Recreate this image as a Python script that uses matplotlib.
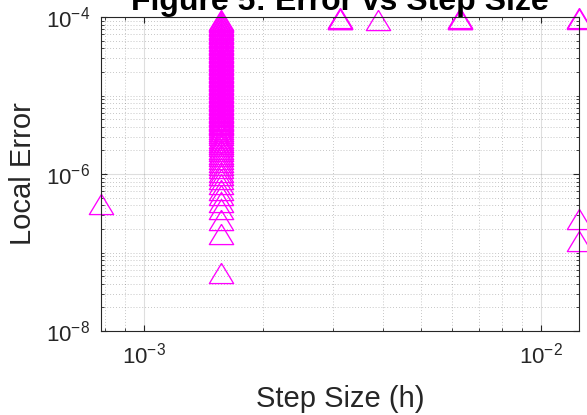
import numpy as np
import matplotlib
matplotlib.use("Agg")
import matplotlib.pyplot as plt
from matplotlib.ticker import LogLocator, FixedLocator, NullFormatter, LogFormatterMathtext

plt.rcParams['font.family'] = ['Liberation Sans', 'DejaVu Sans']
plt.rcParams['mathtext.fontset'] = 'custom'
plt.rcParams['mathtext.rm'] = 'Liberation Sans'
plt.rcParams['mathtext.it'] = 'Liberation Sans:italic'
plt.rcParams['mathtext.bf'] = 'Liberation Sans:bold'
plt.rcParams['mathtext.default'] = 'regular'

# ---- data ----
h_left = [0.00078125]
err_left = [4.2e-7]

h_col = 0.0015625
err_col_low = [5.5e-8, 1.7e-7, 2.6e-7, 3.6e-7, 4.4e-7, 5.4e-7, 6.2e-7, 7.4e-7, 8.6e-7,
               9.6e-7, 1.07e-6, 1.18e-6, 1.3e-6, 1.42e-6, 1.55e-6, 1.68e-6, 1.82e-6,
               1.96e-6, 2.1e-6, 2.25e-6, 2.4e-6, 2.56e-6, 2.73e-6, 2.9e-6, 3.1e-6,
               3.3e-6, 3.5e-6, 3.75e-6]
err_col_mid = [4.0e-6, 4.16e-6, 4.33e-6, 4.5e-6, 4.68e-6, 4.87e-6, 5.06e-6, 5.26e-6,
               5.47e-6, 5.69e-6, 5.92e-6, 6.16e-6, 6.4e-6, 6.66e-6, 6.93e-6, 7.2e-6,
               7.49e-6, 7.79e-6, 8.1e-6, 8.43e-6, 8.76e-6, 9.11e-6, 9.48e-6, 9.86e-6]
err_col_high = [1.025e-5, 1.066e-5, 1.109e-5, 1.153e-5, 1.2e-5, 1.247e-5, 1.297e-5,
                1.349e-5, 1.403e-5, 1.459e-5, 1.518e-5, 1.578e-5, 1.641e-5, 1.707e-5,
                1.775e-5, 1.846e-5, 1.92e-5, 1.997e-5, 2.077e-5, 2.16e-5, 2.246e-5,
                2.336e-5, 2.43e-5, 2.527e-5, 2.628e-5, 2.733e-5, 2.842e-5, 2.956e-5,
                3.074e-5, 3.197e-5, 3.325e-5, 3.458e-5, 3.596e-5, 3.74e-5, 3.89e-5,
                4.045e-5, 4.207e-5, 4.375e-5, 4.55e-5, 4.732e-5, 4.922e-5, 5.118e-5,
                5.323e-5, 5.536e-5, 5.757e-5, 5.988e-5, 6.227e-5, 6.476e-5, 6.735e-5,
                7.005e-5, 7.285e-5, 7.576e-5, 7.879e-5, 8.194e-5, 8.522e-5, 8.863e-5,
                9.1e-5]

h_top = [0.003125, 0.003125, 0.003125, 0.0039, 0.00625, 0.00625, 0.00625, 0.0125, 0.0125]
err_top = [9.3e-5, 9.55e-5, 9.8e-5, 9.2e-5, 9.3e-5, 9.55e-5, 9.8e-5, 9.3e-5, 9.6e-5]

h_right = [0.0125, 0.0125]
err_right = [2.7e-7, 1.4e-7]

x_ticks = [1e-3, 1e-2]
y_ticks = [1e-8, 1e-6, 1e-4]

# ---- plot ----
fig = plt.figure(figsize=(5.87, 4.15), dpi=100)
ax = fig.add_axes([101/587, 1 - 331/415, (579 - 101)/587, (331 - 17)/415])

tri = [(0, 0.83), (-1, -0.83), (1, -0.83), (0, 0.83)]
mk = dict(marker=tri, markersize=17.5, markerfacecolor='none',
          markeredgecolor=(1, 0, 1), markeredgewidth=0.95, linestyle='none',
          clip_on=False)

err_col = err_col_low + err_col_mid + err_col_high
hx = h_left + [h_col] * len(err_col) + h_top + h_right
ey = err_left + err_col + err_top + err_right
ax.plot(hx, ey, **mk)

ax.set_xscale('log')
ax.set_yscale('log')
ax.set_xlim(min(hx), max(hx))
ax.set_ylim(1e-8, 1e-4)

ax.xaxis.set_major_locator(FixedLocator(x_ticks))
ax.yaxis.set_major_locator(FixedLocator(y_ticks))
ax.xaxis.set_minor_locator(LogLocator(base=10, subs=np.arange(2, 10)))
ymin = [m * 10.0**e for e in range(-8, -4) for m in range(1, 10)
        if not (m == 1 and e % 2 == 0)]
ax.yaxis.set_minor_locator(FixedLocator(ymin))
ax.xaxis.set_minor_formatter(NullFormatter())
ax.yaxis.set_minor_formatter(NullFormatter())
ax.xaxis.set_major_formatter(LogFormatterMathtext())
ax.yaxis.set_major_formatter(LogFormatterMathtext())

ax.grid(True, which='major', color=(0.15, 0.15, 0.15), alpha=0.15, linewidth=0.8)
ax.grid(True, which='minor', color=(0.15, 0.15, 0.15), alpha=0.35,
        linestyle=(0, (1, 2.5)), linewidth=0.6)
ax.set_axisbelow(True)

ax.tick_params(which='both', direction='in', top=True, right=True,
               colors=(0.15, 0.15, 0.15), labelsize=16)
ax.tick_params(which='major', length=4, width=0.8, pad=8)
ax.tick_params(which='minor', length=2.5, width=0.6)
for s in ax.spines.values():
    s.set_color((0.15, 0.15, 0.15))
    s.set_linewidth(0.8)

ax.set_xlabel('Step Size (h)', fontsize=21, color=(0.15, 0.15, 0.15), labelpad=12)
ax.set_ylabel('Local Error', fontsize=21, color=(0.15, 0.15, 0.15), labelpad=6)
ax.set_title('Figure 5: Error vs Step Size', fontsize=23, fontweight='bold',
             pad=3)

fig.savefig('out.png', dpi=100)
